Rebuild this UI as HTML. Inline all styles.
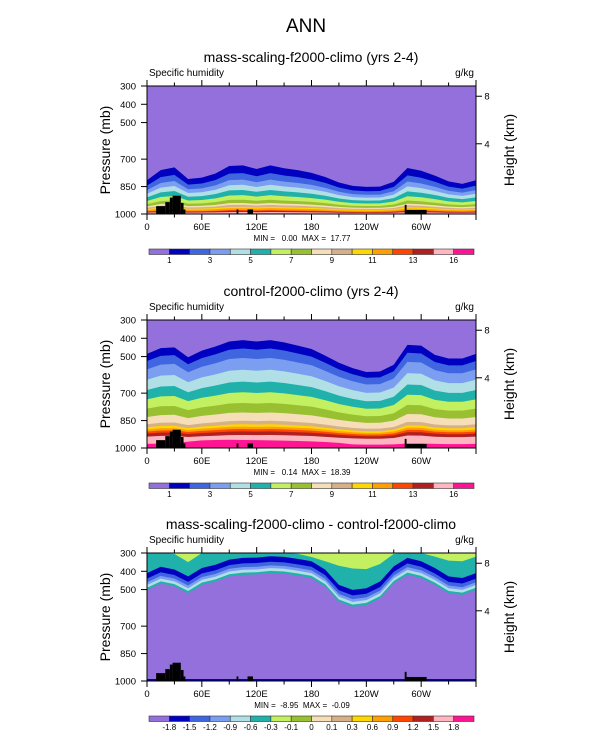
<!DOCTYPE html>
<html><head><meta charset="utf-8"><style>
html,body{margin:0;padding:0;background:#fff;}
svg{display:block;font-family:"Liberation Sans",sans-serif;}
.pre{white-space:pre;}
</style></head><body>
<svg id="fig" width="612" height="743" viewBox="0 0 612 743" xmlns="http://www.w3.org/2000/svg">
<text x="306" y="32" font-size="19" text-anchor="middle">ANN</text>
</svg>
<script>
// ---- data ----
const lons = [0,15,30,45,60,75,90,105,120,135,150,165,180,195,210,225,240,255,270,285,300,315,330,345,360];
// panel 1: pressure (mb) of lowest contour top boundary
const p1Top = [754,680,660,745,735,705,650,645,672,645,666,680,700,730,770,795,802,800,765,665,685,720,762,780,754];
const p1Frac = [0,0.25,0.37,0.47,0.55,0.63,0.71,0.78,0.83,0.86,0.89,0.91,0.94,0.95,0.97,0.99];
// panel 2
const p2Top = [434,400,395,455,415,390,360,352,360,352,365,385,405,445,488,520,543,540,500,380,385,440,462,462,434];
const p2Frac = [0,0.09,0.16,0.24,0.34,0.44,0.53,0.62,0.70,0.77,0.80,0.82,0.84,0.86,0.89,0.96];
// panel 2 magenta (16+) top pressure; 1000 = none
const p2Magenta = [1000,1000,1000,965,958,956,955,956,957,958,960,962,964,967,972,980,1000,1000,1000,1000,1000,1000,1000,1000,1000];
// panel 3 (difference)
const p3Purple = [490,455,470,508,462,444,416,407,405,398,401,412,425,471,554,582,573,536,453,407,425,462,508,517,490];
const p3Green = [300,300,305,350,300,300,300,300,300,300,300,305,322,345,370,385,388,360,305,300,300,320,342,345,320];
const p3Offsets = [0,15,30,50,80];
// topography rectangles [lonStart, lonEnd, surfacePressure]
const topo = [[10,20,957],[20,25,935],[25,28,910],[28,37,900],[37,40,940],[40,42,975],[98,100,975],[110,116,975],[282,284,950],[284,306,978]];
const colors = ["#9370DB","#0000C0","#3F66E0","#7C9EF0","#B0E0E6","#20B2AA","#C2F060","#98C030","#F5DEB8","#D6B088","#FFD700","#FFA000","#FF4500","#B02020","#FFB6C1","#FF1493"];
const cb1Labels = ["","1","","3","","5","","7","","9","","11","","13","","16"];
const cb3Labels = ["-1.8","-1.5","-1.2","-0.9","-0.6","-0.3","-0.1","0","0.1","0.3","0.6","0.9","1.2","1.5","1.8"];
const xTickLabels = ["0","60E","120E","180","120W","60W"];
const pTicks = [300,400,500,700,850,1000];
const hTicks = [8,4];
const hTickP = [356,616];
const titles = ["mass-scaling-f2000-climo (yrs 2-4)","control-f2000-climo (yrs 2-4)","mass-scaling-f2000-climo - control-f2000-climo"];
const minmax = ["MIN =   0.00  MAX =  17.77","MIN =   0.14  MAX =  18.39","MIN =  -8.95  MAX =  -0.09"];

// ---- layout ----
const svg = document.getElementById('fig');
const NS = "http://www.w3.org/2000/svg";
const X0 = 147, X1 = 476, PH = 128;
const offs = [0,234,467];
function mk(tag, attrs, parent){const e=document.createElementNS(NS,tag);for(const k in attrs)e.setAttribute(k,attrs[k]);(parent||svg).appendChild(e);return e;}
function xs(lon){return X0+lon/360*(X1-X0);}
function ys(p,top){return top+(p-300)/700*PH;}
function bandPath(arr, top){
  let d="M"+xs(lons[0])+","+ys(arr[0],top);
  for(let i=1;i<lons.length;i++) d+=" L"+xs(lons[i])+","+ys(arr[i],top);
  d+=" L"+X1+","+(top+PH)+" L"+X0+","+(top+PH)+"Z";
  return d;
}
offs.forEach((o,pi)=>{
  const top=86+o;
  const g=mk('g',{});
  
  
  const t=mk('text',{x:311,y:62+o,'font-size':14,'text-anchor':'middle'},g); t.textContent=titles[pi];
   
  const s1=mk('text',{x:149,y:76+o,'font-size':10},g); s1.textContent="Specific humidity";
   
  const s2=mk('text',{x:474,y:76+o,'font-size':10,'text-anchor':'end'},g); s2.textContent="g/kg";
   
  const clip=mk('clipPath',{id:'c'+pi},g); mk('rect',{x:X0,y:top,width:X1-X0,height:PH},clip);
  const plot=mk('g',{'clip-path':'url(#c'+pi+')'},g);
   
  mk('rect',{x:X0,y:top,width:X1-X0,height:PH,fill:colors[0]},plot);
  if(pi<2){
    const tp=pi===0?p1Top:p2Top, fr=pi===0?p1Frac:p2Frac;
    for(let k=1;k<16;k++){
      let arr=tp.map(p=>p+fr[k]*(1000-p));
      if(pi===1 && k===15) arr=arr.map((p,i)=>Math.min(p,p2Magenta[i]));
      const b=mk('path',{d:bandPath(arr,top),fill:colors[k]},plot);
       
    }
  } else {
    const bandCols=[colors[5],colors[4],colors[3],colors[2],colors[1]];
    mk('rect',{x:X0,y:top,width:X1-X0,height:PH,fill:colors[6]},plot);
    const tealArr=p3Green;
    let b=mk('path',{d:bandPath(tealArr,top),fill:colors[5]},plot);
     
    for(let k=4;k>=0;k--){
      const arr=p3Purple.map((p,i)=>Math.max(p-p3Offsets[k],tealArr[i]));
      const bb=mk('path',{d:bandPath(arr,top),fill:bandCols[k]},plot);
       
    }
    const pp=mk('path',{d:bandPath(p3Purple.map(p=>p+12),top),fill:colors[0]},plot);
     
    mk('rect',{x:X0,y:top+PH-2,width:X1-X0,height:1.5,fill:colors[1]},plot);
  }
  topo.forEach(r=>{
    const e=mk('rect',{x:xs(r[0]),y:ys(r[2],top),width:xs(r[1])-xs(r[0]),height:top+PH-ys(r[2],top),fill:'#000'},plot);
     
  });
  mk('rect',{x:X0,y:top,width:X1-X0,height:PH,fill:'none',stroke:'#000','stroke-width':1},g);
  for(let lon=0;lon<=360;lon+=30){
    const maj=lon%60===0, x=xs(lon);
    mk('line',{x1:x,x2:x,y1:top,y2:top-(maj?6:3.5),stroke:'#000'},g);
    mk('line',{x1:x,x2:x,y1:top+PH,y2:top+PH+(maj?6:3.5),stroke:'#000'},g);
  }
  xTickLabels.forEach((l,i)=>{const tx=mk('text',{x:xs(i*60),y:top+PH+16,'font-size':9.5,'text-anchor':'middle'},g);tx.textContent=l;
     });
  pTicks.forEach(p=>{const y=ys(p,top);mk('line',{x1:X0,x2:X0-6,y1:y,y2:y,stroke:'#000'},g);
    const tx=mk('text',{x:136,y:y+3.5,'font-size':9.5,'text-anchor':'end'},g);tx.textContent=p;
     });
  hTicks.forEach((h,i)=>{const y=ys(hTickP[i],top);mk('line',{x1:X1,x2:X1+6,y1:y,y2:y,stroke:'#000'},g);
    const tx=mk('text',{x:487,y:y+3.5,'font-size':9.5,'text-anchor':'middle'},g);tx.textContent=h;
     });
  const yl=mk('text',{x:0,y:0,'font-size':14,'text-anchor':'middle',transform:'translate(110,'+(top+PH/2)+') rotate(-90)'},g);yl.textContent="Pressure (mb)";
   
  const yr=mk('text',{x:0,y:0,'font-size':14,'text-anchor':'middle',transform:'translate(514,'+(top+PH/2)+') rotate(-90)'},g);yr.textContent="Height (km)";
   
  const mm=mk('text',{x:302,y:top+PH+27,'font-size':8,'text-anchor':'middle','class':'pre'},g);mm.textContent=minmax[pi];
   
  const cb=mk('g',{},g);
   
  const cy=249+o, cx0=149, cw=(474-149)/16;
  colors.forEach((c,k)=>{const r=mk('rect',{x:cx0+k*cw,y:cy,width:cw,height:5.5,fill:c,stroke:'#333','stroke-width':0.6},cb);
     });
  const labs = pi<2?cb1Labels:[""].concat(cb3Labels);
  labs.forEach((l,k)=>{if(!l)return;const tx=mk('text',{x:cx0+k*cw,y:cy+14,'font-size':8,'text-anchor':'middle'},cb);tx.textContent=l;
     });
});
</script>
</body></html>
